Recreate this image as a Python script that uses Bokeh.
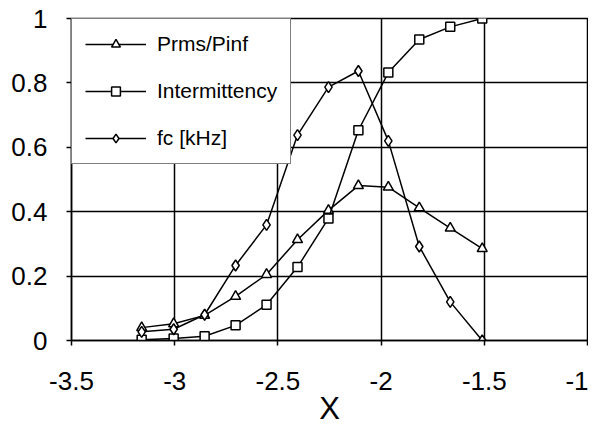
from bokeh.plotting import figure
from bokeh.models import FixedTicker, Range1d
from bokeh.embed import file_html
from bokeh.resources import INLINE

x_vals = [-3.16, -3.005, -2.855, -2.705, -2.555, -2.405, -2.255, -2.11, -1.965, -1.815, -1.665, -1.51]
prms_pinf = [0.04, 0.052, 0.078, 0.137, 0.205, 0.313, 0.404, 0.481, 0.476, 0.412, 0.349, 0.285]
intermittency = [0.002, 0.006, 0.013, 0.047, 0.111, 0.228, 0.379, 0.653, 0.832, 0.935, 0.974, 1.0]
fc_khz = [0.027, 0.035, 0.08, 0.233, 0.359, 0.638, 0.787, 0.837, 0.62, 0.292, 0.12, 0.0]

x_ticks = [-3.5, -3, -2.5, -2, -1.5, -1]
y_ticks = [0, 0.2, 0.4, 0.6, 0.8, 1]
x_title = "X"

FONT = "Liberation Sans"

p = figure(width=588, height=428, output_backend="svg", toolbar_location=None,
           x_range=Range1d(-3.5, -1), y_range=Range1d(0, 1),
           min_border_left=71, min_border_right=1, min_border_top=18, min_border_bottom=87)

p.outline_line_color = "black"
p.outline_line_width = 1.5

for ax in (p.xaxis[0], p.yaxis[0]):
    ax.axis_line_color = "black"
    ax.axis_line_width = 1.5
    ax.major_tick_line_color = "black"
    ax.major_tick_line_width = 1.5
    ax.major_tick_in = 0
    ax.major_tick_out = 5
    ax.minor_tick_line_color = None
    ax.major_label_text_font = FONT
    ax.major_label_text_font_size = "26px"
    ax.major_label_text_color = "black"

p.xaxis[0].ticker = FixedTicker(ticks=x_ticks)
p.yaxis[0].ticker = FixedTicker(ticks=y_ticks)
p.xaxis[0].major_label_overrides = {t: ("%g" % t) for t in x_ticks}
p.yaxis[0].major_label_overrides = {t: ("%g" % t) for t in y_ticks}
p.xaxis[0].major_label_standoff = 26
p.yaxis[0].major_label_standoff = 19

p.xaxis[0].axis_label = x_title
p.xaxis[0].axis_label_text_font = FONT
p.xaxis[0].axis_label_text_font_size = "31px"
p.xaxis[0].axis_label_text_font_style = "normal"
p.xaxis[0].axis_label_text_color = "black"
p.xaxis[0].axis_label_standoff = -2

for g in (p.xgrid[0], p.ygrid[0]):
    g.grid_line_color = "black"
    g.grid_line_width = 1.5
    g.grid_line_alpha = 1.0
p.xgrid[0].ticker = FixedTicker(ticks=x_ticks)
p.ygrid[0].ticker = FixedTicker(ticks=y_ticks)

series = [
    ("Prms/Pinf", prms_pinf, "triangle", 10),
    ("Intermittency", intermittency, "square", 9),
    ("fc [kHz]", fc_khz, "diamond", 11),
]
for name, ys, marker, size in series:
    p.line(x_vals, ys, line_color="black", line_width=1.5, legend_label=name)
    p.scatter(x_vals, ys, marker=marker, size=size, line_color="black", line_width=1.5,
              fill_color="white", legend_label=name)

lg = p.legend[0]
lg.location = "top_left"
lg.margin = 0
lg.padding = 13
lg.spacing = 23
lg.glyph_width = 61
lg.glyph_height = 22
lg.label_height = 22
lg.label_standoff = 11
lg.label_text_font = FONT
lg.label_text_font_size = "21px"
lg.label_text_color = "black"
lg.border_line_color = "black"
lg.border_line_width = 1.5
lg.background_fill_color = "white"
lg.background_fill_alpha = 1.0

open("out.html", "w").write(file_html(p, INLINE))
